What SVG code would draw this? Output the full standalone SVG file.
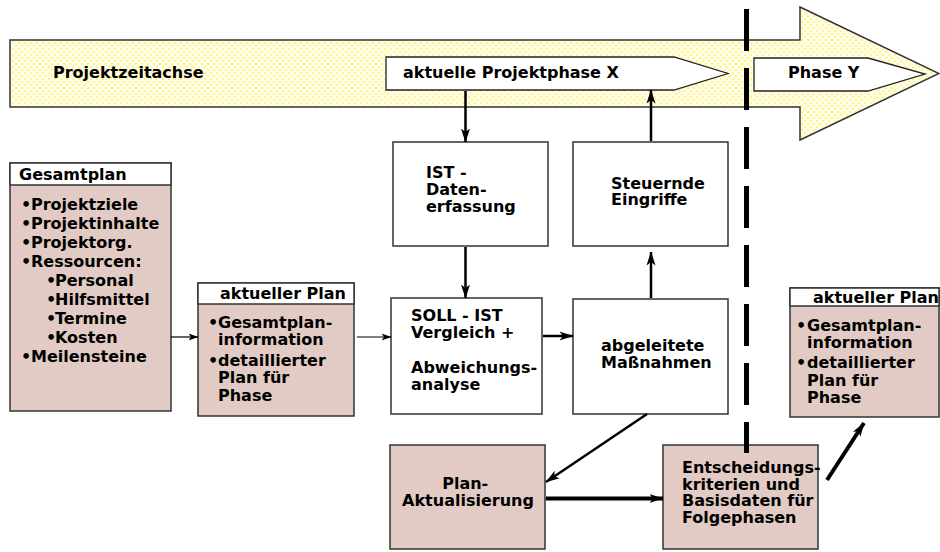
<svg xmlns="http://www.w3.org/2000/svg" width="940" height="552" viewBox="0 0 940 552">
  <style>
    text { font-family: "DejaVu Sans", Verdana, sans-serif; font-weight: bold; font-size: 16px; fill: #000; }
    .box { fill: #fff; stroke: #333; stroke-width: 1.5; }
    .plan { fill: #e2cbc4; stroke: #333; stroke-width: 1.5; }
    .head { fill: #fff; stroke: #333; stroke-width: 1.5; }
    .axis { fill: url(#dots); stroke: #333; stroke-width: 1.5; }
    .phase { fill: #fff; stroke: #222; stroke-width: 1.3; }
    .c { fill: none; stroke: #000; }
    .thin { stroke-width: 1.2; marker-end: url(#ah-s); }
    .mid { stroke-width: 2.5; marker-end: url(#ah-m); }
    .thick { stroke-width: 4; marker-end: url(#ah-m); }
    .cut { fill: none; stroke: #000; stroke-width: 5; stroke-dasharray: 42 17; }
  </style>
  <defs>
    <!-- pale yellow dotted fill of the time axis -->
    <pattern id="dots" patternUnits="userSpaceOnUse" width="6" height="6">
      <rect width="6" height="6" fill="#fffde6"/>
      <rect x="0" y="0" width="2" height="2" fill="#fff48c"/>
      <rect x="3" y="3" width="2" height="2" fill="#fff48c"/>
    </pattern>
    <marker id="ah-s" markerUnits="userSpaceOnUse" viewBox="0 0 10 8" markerWidth="10" markerHeight="8" refX="9.5" refY="4" orient="auto">
      <path d="M0,0.5 L10,4 L0,7.5 L2.5,4 Z" fill="#000"/>
    </marker>
    <marker id="ah-m" markerUnits="userSpaceOnUse" viewBox="0 0 14 10" markerWidth="14" markerHeight="10" refX="13.5" refY="5" orient="auto">
      <path d="M0,0.5 L14,5 L0,9.5 L3.5,5 Z" fill="#000"/>
    </marker>
  </defs>

  <!-- time axis -->
  <g id="zeitachse">
    <path class="axis" d="M10,40 H800 V7 L939,73.5 L800,140 V107 H10 Z"/>
    <text x="53" y="78">Projektzeitachse</text>
  </g>
  <g id="phase-x">
    <path class="phase" d="M386,57 H674 L728,73.5 L674,90 H386 Z"/>
    <text x="403" y="78">aktuelle Projektphase X</text>
  </g>
  <g id="phase-y">
    <path class="phase" d="M754,58 H868 L925,74 L868,91 H754 Z"/>
    <text x="788" y="78">Phase Y</text>
  </g>

  <!-- overall plan -->
  <g id="gesamtplan">
    <rect class="plan" x="10" y="163" width="161" height="248"/>
    <rect class="head" x="10" y="163" width="161" height="22"/>
    <text x="19" y="180">Gesamtplan</text>
    <text>
      <tspan x="21" y="209.5">•</tspan><tspan x="31">Projektziele</tspan>
      <tspan x="21" y="228.5">•</tspan><tspan x="31">Projektinhalte</tspan>
      <tspan x="21" y="247.5">•</tspan><tspan x="31">Projektorg.</tspan>
      <tspan x="21" y="266.5">•</tspan><tspan x="31">Ressourcen:</tspan>
      <tspan x="46" y="286">•</tspan><tspan x="55">Personal</tspan>
      <tspan x="46" y="305">•</tspan><tspan x="55">Hilfsmittel</tspan>
      <tspan x="46" y="324">•</tspan><tspan x="55">Termine</tspan>
      <tspan x="46" y="343">•</tspan><tspan x="55">Kosten</tspan>
      <tspan x="21" y="362">•</tspan><tspan x="31">Meilensteine</tspan>
    </text>
  </g>

  <!-- current plan, phase X -->
  <g id="plan-x">
    <rect class="plan" x="198" y="283" width="156" height="133"/>
    <rect class="head" x="198" y="283" width="156" height="21"/>
    <text x="220" y="299">aktueller Plan</text>
    <text>
      <tspan x="208" y="328">•</tspan><tspan x="218">Gesamtplan-</tspan>
      <tspan x="218" y="345">information</tspan>
      <tspan x="208" y="365.5">•</tspan><tspan x="218">detaillierter</tspan>
      <tspan x="218" y="383">Plan für</tspan>
      <tspan x="218" y="400.5">Phase</tspan>
    </text>
  </g>

  <g id="ist">
    <rect class="box" x="393" y="142" width="155" height="104"/>
    <text>
      <tspan x="426" y="178">IST -</tspan>
      <tspan x="426" y="195">Daten-</tspan>
      <tspan x="426" y="212">erfassung</tspan>
    </text>
  </g>

  <g id="steuernde">
    <rect class="box" x="573" y="142" width="155" height="104"/>
    <text>
      <tspan x="611" y="188.5">Steuernde</tspan>
      <tspan x="611" y="204.5">Eingriffe</tspan>
    </text>
  </g>

  <g id="soll-ist">
    <rect class="box" x="391" y="298" width="151" height="116"/>
    <text>
      <tspan x="411" y="320.5">SOLL - IST</tspan>
      <tspan x="411" y="337.5">Vergleich +</tspan>
      <tspan x="411" y="372.5">Abweichungs-</tspan>
      <tspan x="411" y="389.5">analyse</tspan>
    </text>
  </g>

  <g id="massnahmen">
    <rect class="box" x="573" y="299" width="155" height="115"/>
    <text>
      <tspan x="601" y="351">abgeleitete</tspan>
      <tspan x="601" y="367.5">Maßnahmen</tspan>
    </text>
  </g>

  <!-- current plan, phase Y -->
  <g id="plan-y">
    <rect class="plan" x="790" y="288" width="149" height="129"/>
    <rect class="head" x="790" y="288" width="149" height="18"/>
    <text x="813" y="302.5">aktueller Plan</text>
    <text>
      <tspan x="796" y="331">•</tspan><tspan x="807">Gesamtplan-</tspan>
      <tspan x="807" y="347.5">information</tspan>
      <tspan x="796" y="368">•</tspan><tspan x="807">detaillierter</tspan>
      <tspan x="807" y="386">Plan für</tspan>
      <tspan x="807" y="403">Phase</tspan>
    </text>
  </g>

  <g id="aktualisierung">
    <rect class="plan" x="390" y="445" width="155" height="104"/>
    <text text-anchor="middle">
      <tspan x="468" y="488.5">Plan-</tspan>
      <tspan x="468" y="506">Aktualisierung</tspan>
    </text>
  </g>

  <g id="entscheidung">
    <rect class="plan" x="663" y="445" width="155" height="104"/>
    <text>
      <tspan x="682" y="473">Entscheidungs-</tspan>
      <tspan x="682" y="489.5">kriterien und</tspan>
      <tspan x="682" y="506">Basisdaten für</tspan>
      <tspan x="682" y="522.5">Folgephasen</tspan>
    </text>
  </g>

  <!-- connectors -->
  <g id="connectors">
    <line class="c thin" x1="171" y1="337" x2="198" y2="337"/>
    <line class="c thin" x1="357" y1="337" x2="391" y2="337"/>
    <line class="c mid" x1="543" y1="336" x2="573" y2="336"/>
    <line class="c mid" x1="465.5" y1="91" x2="465.5" y2="142"/>
    <line class="c mid" x1="651" y1="141" x2="651" y2="90"/>
    <line class="c mid" x1="465.5" y1="247" x2="465.5" y2="298"/>
    <line class="c mid" x1="651" y1="298" x2="651" y2="252"/>
    <line class="c mid" x1="647" y1="414" x2="546" y2="482"/>
    <line class="c thick" x1="546" y1="498.5" x2="663" y2="498.5"/>
    <line class="c thick" x1="827" y1="480" x2="864" y2="423"/>
  </g>

  <!-- phase boundary -->
  <g id="phasengrenze">
    <line class="cut" x1="746.5" y1="9" x2="746.5" y2="453"/>
  </g>
</svg>
